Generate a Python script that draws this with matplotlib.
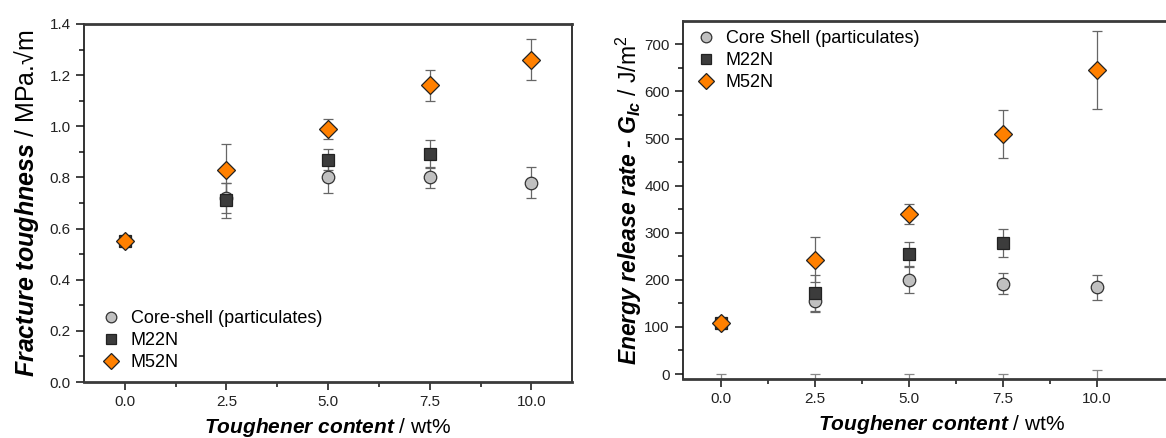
import numpy as np
import matplotlib
matplotlib.use("Agg")
import matplotlib.pyplot as plt
from matplotlib.ticker import MultipleLocator, FixedLocator

plt.rcParams['font.family'] = ['Liberation Sans', 'DejaVu Sans']
plt.rcParams['mathtext.fontset'] = 'custom'
plt.rcParams['mathtext.rm'] = 'Liberation Sans'
plt.rcParams['mathtext.it'] = 'Liberation Sans:italic'
plt.rcParams['mathtext.bf'] = 'Liberation Sans:bold'
plt.rcParams['mathtext.bfit'] = 'Liberation Sans:bold:italic'

# data
content = [0.0, 2.5, 5.0, 7.5, 10.0]
content_m22 = [0.0, 2.5, 5.0, 7.5]

kic_cs = [0.55, 0.72, 0.80, 0.80, 0.78]
kic_cs_err = [0.01, 0.06, 0.06, 0.04, 0.06]
kic_m22 = [0.55, 0.71, 0.87, 0.89]
kic_m22_err = [0.01, 0.07, 0.04, 0.055]
kic_m52 = [0.55, 0.83, 0.99, 1.16, 1.26]
kic_m52_err = [0.01, 0.10, 0.04, 0.06, 0.08]

gic_cs = [108, 155, 200, 192, 184]
gic_cs_err = [8, 22, 28, 22, 27]
gic_m22 = [108, 171, 255, 278]
gic_m22_err = [8, 40, 25, 30]
gic_m52 = [108, 243, 340, 509, 645]
gic_m52_err = [8, 47, 21, 51, 83]
# leftover error caps sitting on zero
gic_zero = [0, 0, 0, 0, 0]
gic_zero_lo = [12, 12, 12, 12, 12]
gic_zero_hi = [0, 0, 0, 0, 9]

ecol = '#666666'
styles = [
    dict(marker='o', ms=9, mfc='#c0c0c0', mec='#333333'),
    dict(marker='s', ms=8, mfc='#3c3c3c', mec='#222222'),
    dict(marker='D', ms=9, mfc='#ff8000', mec='#222222'),
]

fig = plt.figure(figsize=(11.66, 4.38), dpi=100)
W, H = 1166, 438
ax1 = fig.add_axes([84 / W, 1 - 382 / H, (572 - 84) / W, (382 - 24) / H])
ax2 = fig.add_axes([683 / W, 1 - 379 / H, (1200 - 683) / W, (379 - 21) / H])


def draw(ax, xs, ys, errs, st, label):
    ax.errorbar(xs, ys, yerr=errs, fmt='none', ecolor=ecol, elinewidth=0.9,
                capsize=3.5, capthick=0.9, zorder=2)
    ax.plot(xs, ys, linestyle='none', mew=0.9, label=label, zorder=3, **st)


def style(ax):
    for s in ['top', 'bottom']:
        ax.spines[s].set_linewidth(2.0)
        ax.spines[s].set_color('#3a3a3a')
    for s in ['left', 'right']:
        ax.spines[s].set_linewidth(1.2)
        ax.spines[s].set_color('#111111')
    ax.tick_params(which='both', direction='out', top=False, right=False,
                   labelsize=11, colors='#222222')
    ax.tick_params(which='major', length=6, width=1.2)
    ax.tick_params(which='minor', length=3.5, width=1.2)
    ax.xaxis.set_major_locator(FixedLocator(content))
    ax.xaxis.set_minor_locator(FixedLocator([1.25, 3.75, 6.25, 8.75]))
    ax.xaxis.set_major_formatter(lambda v, p: f"{v:.1f}")
    ax.set_xlabel(r"$\mathbfit{Toughener\ content}$ / wt%", fontsize=15, labelpad=5)


def legend(ax, loc, anchor):
    ax.legend(loc=loc, frameon=False, fontsize=13, handletextpad=0.55,
              handlelength=1.1, borderaxespad=0, borderpad=0,
              labelspacing=0.28, markerscale=0.85, bbox_to_anchor=anchor)


draw(ax1, content, kic_cs, kic_cs_err, styles[0], 'Core-shell (particulates)')
draw(ax1, content_m22, kic_m22, kic_m22_err, styles[1], 'M22N')
draw(ax1, content, kic_m52, kic_m52_err, styles[2], 'M52N')
ax1.set_xlim(-1, 11)
ax1.set_ylim(0, 1.4)
ax1.yaxis.set_major_locator(MultipleLocator(0.2))
ax1.yaxis.set_minor_locator(MultipleLocator(0.1))
ax1.yaxis.set_major_formatter(lambda v, p: f"{v:.1f}")
style(ax1)
ax1.set_ylabel(r"$\mathbfit{Fracture\ toughness}$ / MPa.√m", fontsize=18, labelpad=6)
legend(ax1, 'lower left', (0.035, 0.03))

ax2.errorbar(content, gic_zero, yerr=[gic_zero_lo, gic_zero_hi], fmt='none',
             ecolor='#888888', elinewidth=0.9, capsize=3.5, capthick=0.9, zorder=1)
draw(ax2, content, gic_cs, gic_cs_err, styles[0], 'Core Shell (particulates)')
draw(ax2, content_m22, gic_m22, gic_m22_err, styles[1], 'M22N')
draw(ax2, content, gic_m52, gic_m52_err, styles[2], 'M52N')
ax2.set_xlim(-1, -1 + (1200 - 683) / 37.6)
ax2.set_ylim(-10.6, 749.5)
ax2.yaxis.set_major_locator(MultipleLocator(100))
ax2.yaxis.set_minor_locator(MultipleLocator(50))
style(ax2)
ax2.spines['right'].set_visible(False)
ax2.set_ylabel("$\\mathbfit{Energy\\ release\\ rate\\ \u2010\\ G_{Ic}}$ / J/m$^2$",
               fontsize=16.5, labelpad=0)
legend(ax2, 'upper left', (0.025, 0.975))

fig.savefig("out.png", dpi=100)
